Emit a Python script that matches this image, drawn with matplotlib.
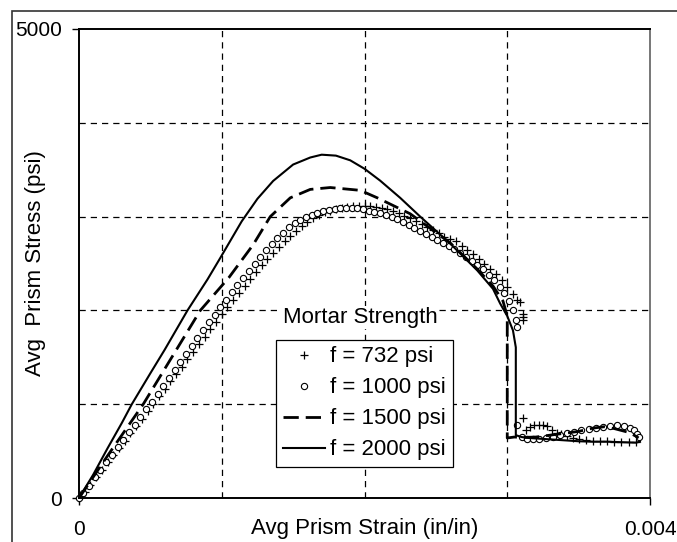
import numpy as np
import matplotlib
matplotlib.use("Agg")
import matplotlib.pyplot as plt
from matplotlib.patches import Rectangle

plt.rcParams['font.family'] = ['Liberation Sans', 'DejaVu Sans']

# strain values in units of 1e-3 in/in, stress in psi
# f = 732 psi (plus markers)
strain_732 = [0.00, 0.04, 0.08, 0.12, 0.16, 0.20, 0.24, 0.28, 0.32, 0.36, 0.40, 0.44, 0.48,
              0.52, 0.56, 0.60, 0.64, 0.68, 0.72, 0.76, 0.80, 0.84, 0.88, 0.92, 0.96, 1.00,
              1.04, 1.08, 1.12, 1.16, 1.20, 1.24, 1.28, 1.32, 1.36, 1.40, 1.44, 1.48, 1.52,
              1.56, 1.60, 1.64, 1.68, 1.72, 1.76, 1.80, 1.84, 1.88, 1.92, 1.96, 2.00, 2.04,
              2.08, 2.12, 2.16, 2.20, 2.24, 2.28, 2.32, 2.36, 2.40, 2.44, 2.48, 2.52, 2.56,
              2.60, 2.64, 2.68, 2.72, 2.76, 2.80, 2.84, 2.88, 2.92, 2.96, 3.00, 3.04, 3.07,
              3.09, 3.11, 3.11, 3.11,
              3.11, 3.13, 3.16, 3.19, 3.22, 3.25, 3.28, 3.31, 3.35, 3.38, 3.42, 3.46, 3.50,
              3.55, 3.60, 3.65, 3.70, 3.75, 3.80, 3.85, 3.90]
stress_732 = [0, 60, 140, 220, 300, 380, 455, 535, 610, 690, 770, 845, 925,
              1005, 1085, 1165, 1245, 1320, 1400, 1480, 1560, 1640, 1720, 1800, 1880, 1960,
              2035, 2110, 2185, 2260, 2335, 2410, 2480, 2550, 2615, 2680, 2740, 2795, 2850,
              2900, 2945, 2985, 3020, 3045, 3065, 3080, 3092, 3100, 3108, 3112, 3115, 3112,
              3105, 3092, 3078, 3060, 3035, 3010, 2985, 2955, 2925, 2890, 2855, 2820, 2780,
              2760, 2735, 2690, 2645, 2600, 2550, 2495, 2440, 2385, 2320, 2250, 2180, 2110,
              2085, 1960, 1930, 1900,
              850, 720, 760, 780, 780, 775, 770, 720, 690, 680, 660, 640, 625,
              615, 610, 605, 605, 600, 600, 600, 595]

# f = 1000 psi (open circles)
strain_1000 = [0.00, 0.03, 0.07, 0.11, 0.15, 0.19, 0.23, 0.27, 0.31, 0.35, 0.39, 0.43, 0.47,
               0.51, 0.55, 0.59, 0.63, 0.67, 0.71, 0.75, 0.79, 0.83, 0.87, 0.91, 0.95, 0.99,
               1.03, 1.07, 1.11, 1.15, 1.19, 1.23, 1.27, 1.31, 1.35, 1.39, 1.43, 1.47, 1.51,
               1.55, 1.59, 1.63, 1.67, 1.71, 1.75, 1.79, 1.83, 1.87, 1.91, 1.95, 1.99, 2.03,
               2.07, 2.11, 2.15, 2.19, 2.23, 2.27, 2.31, 2.35, 2.39, 2.43, 2.47, 2.51, 2.55,
               2.59, 2.63, 2.67, 2.71, 2.75, 2.79, 2.83, 2.87, 2.91, 2.95, 2.98, 3.01, 3.04,
               3.06, 3.07,
               3.07, 3.10, 3.14, 3.18, 3.22, 3.27, 3.32, 3.37, 3.42, 3.47, 3.52, 3.57, 3.62,
               3.67, 3.72, 3.77, 3.82, 3.86, 3.89, 3.91, 3.92]
stress_1000 = [0, 50, 130, 220, 300, 380, 460, 540, 620, 700, 780, 865, 945,
               1025, 1110, 1195, 1280, 1365, 1450, 1535, 1620, 1705, 1790, 1875, 1955, 2035,
               2115, 2195, 2270, 2350, 2420, 2495, 2570, 2640, 2705, 2770, 2830, 2885, 2930,
               2965, 2995, 3020, 3040, 3055, 3070, 3080, 3088, 3092, 3093, 3090, 3080, 3065,
               3050, 3035, 3015, 2995, 2975, 2945, 2915, 2880, 2850, 2815, 2785, 2755, 2720,
               2690, 2650, 2610, 2565, 2525, 2485, 2445, 2380, 2320, 2250, 2190, 2100, 2000,
               1900, 1820,
               780, 650, 630, 625, 630, 640, 655, 670, 690, 705, 720, 735, 750,
               760, 770, 775, 770, 750, 720, 685, 650]

# f = 1500 psi (dashed line)
strain_1500 = [0.00, 0.20, 0.45, 0.85, 1.05, 1.22, 1.34, 1.48, 1.62, 1.76, 1.97, 2.09, 2.32,
               2.60, 2.79, 2.90, 2.97, 3.00, 3.00,
               3.05, 3.10, 3.20, 3.30, 3.40, 3.50, 3.60, 3.68, 3.75, 3.80, 3.85, 3.90, 3.92]
stress_1500 = [0, 450, 1000, 2000, 2350, 2700, 3000, 3200, 3290, 3310, 3280, 3200, 3030,
               2720, 2440, 2260, 2100, 1940, 640,
               650, 645, 650, 670, 690, 710, 745, 760, 740, 720, 700, 660, 640]

# f = 2000 psi (solid line)
strain_2000 = [0.00, 0.10, 0.20, 0.30, 0.37, 0.50, 0.60, 0.76, 0.90, 0.99, 1.14, 1.25, 1.36,
               1.50, 1.62, 1.70, 1.80, 1.90, 2.00, 2.11, 2.25, 2.39, 2.60, 2.79, 2.90, 2.95,
               3.00, 3.04, 3.06, 3.06,
               3.10, 3.15, 3.20, 3.30, 3.40, 3.50, 3.60, 3.70, 3.80, 3.90, 3.93]
stress_2000 = [0, 250, 530, 800, 1000, 1330, 1580, 2000, 2330, 2560, 2950, 3190, 3380,
               3555, 3630, 3660, 3650, 3600, 3510, 3383, 3200, 3000, 2713, 2426, 2230, 2074,
               1940, 1787, 1606, 670,
               650, 640, 635, 625, 615, 605, 600, 600, 595, 590, 600]

labels = ['f = 732 psi', 'f = 1000 psi', 'f = 1500 psi', 'f = 2000 psi']

fig = plt.figure(figsize=(6.77, 5.42), dpi=100)
ax = fig.add_axes([79 / 677, 1 - 498 / 542, 571 / 677, 469 / 542])

# outer chart frame (left and top edges visible)
fig.add_artist(Rectangle((12 / 677, -0.5), 2.0, 0.5 + 1 - 11 / 542,
                         transform=fig.transFigure, fill=False,
                         edgecolor='#333333', linewidth=1.2))

ms = 1e-3
ax.plot(np.array(strain_732) * ms, stress_732, linestyle='none', marker='+',
        markersize=6, markeredgewidth=0.9, color='black', label=labels[0], clip_on=False)
ax.plot(np.array(strain_1000) * ms, stress_1000, linestyle='none', marker='o',
        markersize=4.5, markerfacecolor='white', markeredgewidth=0.8, color='black',
        label=labels[1], clip_on=False)
ax.plot(np.array(strain_1500) * ms, stress_1500, color='black', linewidth=2.0,
        dashes=(5.5, 2.5), label=labels[2])
ax.plot(np.array(strain_2000) * ms, stress_2000, color='black', linewidth=1.5,
        label=labels[3])

# dashed grid
for gx in [0.001, 0.002, 0.003, 0.004]:
    ax.axvline(gx, color='black', linewidth=0.9, dashes=(5, 4), zorder=0)
for gy in [1000, 2000, 3000, 4000]:
    ax.axhline(gy, color='black', linewidth=0.9, dashes=(5, 4), zorder=0)

ax.set_xlim(0, 0.004)
ax.set_ylim(0, 5000)
ax.set_xticks([0, 0.004])
ax.set_xticklabels(['0', '0.004'])
ax.set_yticks([0, 5000])
ax.set_yticklabels(['0', '5000'])
ax.tick_params(axis='x', direction='out', length=5, width=1, pad=11, labelsize=15)
ax.tick_params(axis='y', direction='out', length=5, width=1, pad=7, labelsize=15)

for side in ['left', 'bottom', 'top']:
    ax.spines[side].set_color('black')
    ax.spines[side].set_linewidth(1.4)
ax.spines['right'].set_color('#777777')
ax.spines['right'].set_linewidth(1.4)

ax.set_xlabel('Avg Prism Strain (in/in)', fontsize=16)
ax.xaxis.set_label_coords(0.5, -0.042)
ax.set_ylabel('Avg  Prism Stress (psi)', fontsize=16)
ax.yaxis.set_label_coords(-0.058, 0.5)

ax.text(0.492, 0.385, 'Mortar Strength', transform=ax.transAxes, fontsize=16,
        ha='center', va='center', zorder=5,
        bbox=dict(facecolor='white', edgecolor='none', pad=1))

leg = ax.legend(loc='lower left', bbox_to_anchor=(0.345, 0.066), borderaxespad=0,
                fontsize=16, handlelength=1.9, handletextpad=0.25, labelspacing=0.45,
                borderpad=0.3, fancybox=False, framealpha=1, edgecolor='black')
leg.get_frame().set_linewidth(0.9)

fig.savefig('out.png', dpi=100)
